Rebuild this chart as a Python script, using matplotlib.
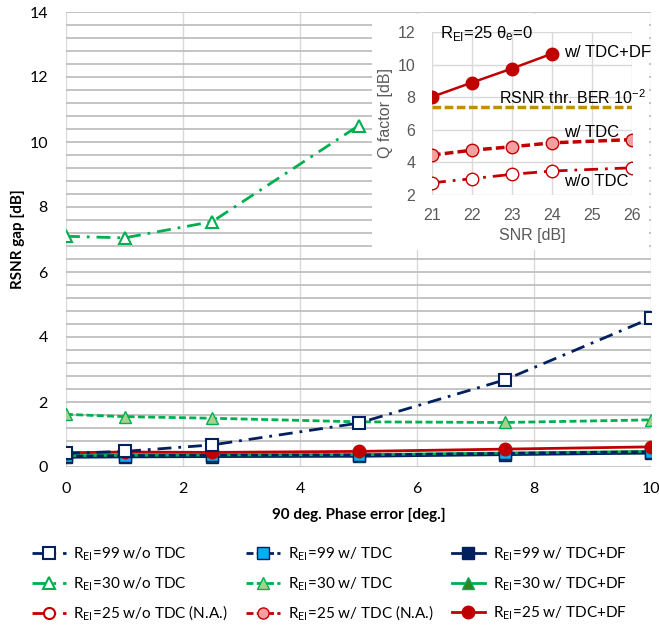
import matplotlib
matplotlib.use('Agg')
import matplotlib.pyplot as plt
from matplotlib.lines import Line2D
from matplotlib.ticker import MultipleLocator

plt.rcParams['font.family'] = ['Lato', 'DejaVu Sans']

# ---------------- data (main chart) ----------------
phase_err = [0, 1, 2.5, 5, 7.5, 10]
phase_err_30wo = [0, 1, 2.5, 5]

r99_wo = [0.42, 0.48, 0.68, 1.35, 2.68, 4.58]
r99_w = [0.33, 0.35, 0.36, 0.37, 0.42, 0.47]
r99_df = [0.30, 0.31, 0.32, 0.33, 0.38, 0.43]
r30_wo = [7.1, 7.05, 7.55, 10.5]
r30_w = [1.62, 1.55, 1.50, 1.39, 1.37, 1.45]
r30_df = [0.35, 0.36, 0.37, 0.38, 0.43, 0.48]
r25_df = [0.44, 0.46, 0.45, 0.48, 0.55, 0.62]

# ---------------- data (inset) ----------------
snr_df = [21, 22, 23, 24]
q_df = [8.02, 8.9, 9.76, 10.67]
snr_w = [21, 22, 23, 24, 26]
q_w = [4.45, 4.75, 4.96, 5.2, 5.4]
snr_wo = [21, 22, 23, 24, 26]
q_wo = [2.75, 3.0, 3.27, 3.47, 3.67]
snr_thr = [21, 26]
q_thr = [7.37, 7.37]

navy = '#002060'
green = '#00B050'
red = '#C00000'
dashdot = (0, (5, 2.5, 1, 2.5))
dashed = (0, (2.5, 1.2))

fig = plt.figure(figsize=(6.59, 6.27), dpi=100)
ax = fig.add_axes([66 / 659, 1 - 467 / 627, 585 / 659, 455 / 627])

ax.plot(phase_err, r99_df, color=navy, lw=2, marker='s', ms=8, mfc=navy, mec=navy,
        label=r'R$_{\mathregular{EI}}$=99 w/ TDC+DF')
ax.plot(phase_err, r30_df, color=green, lw=2, marker='^', ms=8, mfc='#3A7D22', mec=green,
        label=r'R$_{\mathregular{EI}}$=30 w/ TDC+DF')
ax.plot(phase_err, r99_w, color=navy, lw=2, ls=dashed, marker='s', ms=8, mfc='#00B0F0', mec=navy,
        label=r'R$_{\mathregular{EI}}$=99 w/ TDC')
ax.plot(phase_err, r25_df, color=red, lw=2, marker='o', ms=9, mfc=red, mec=red,
        label=r'R$_{\mathregular{EI}}$=25 w/ TDC+DF')
ax.plot(phase_err, r30_w, color=green, lw=2, ls=dashed, marker='^', ms=8, mfc='#A9D18E', mec=green,
        label=r'R$_{\mathregular{EI}}$=30 w/ TDC')
ax.plot(phase_err, r99_wo, color=navy, lw=2, ls=dashdot, marker='s', ms=8, mfc='white', mec=navy, mew=1.5,
        label=r'R$_{\mathregular{EI}}$=99 w/o TDC')
ax.plot(phase_err_30wo, r30_wo, color=green, lw=2, ls=dashdot, marker='^', ms=8, mfc='white', mec=green, mew=1.5,
        label=r'R$_{\mathregular{EI}}$=30 w/o TDC')

ax.set_xlim(0, 10)
ax.set_ylim(0, 14)
ax.xaxis.set_major_locator(MultipleLocator(2))
ax.yaxis.set_major_locator(MultipleLocator(2))
ax.yaxis.set_minor_locator(MultipleLocator(0.4))
ax.grid(True, which='major', axis='x', color='#D9D9D9', lw=1)
ax.grid(True, which='minor', axis='y', color='#BFBFBF', lw=1.3)
ax.grid(True, which='major', axis='y', color='#BFBFBF', lw=1.3)
ax.set_axisbelow(True)
for s in ax.spines.values():
    s.set_visible(False)
ax.tick_params(which='both', length=0, labelsize=11.5)
ax.tick_params(axis='y', pad=13)
ax.tick_params(axis='x', pad=11)
ax.set_xlabel('90 deg. Phase error [deg.]', fontsize=11, fontweight='bold', labelpad=8)
ax.set_ylabel('RSNR gap [dB]', fontsize=11, fontweight='bold', labelpad=3)

# ---------------- inset ----------------
bg = fig.add_axes([372 / 659, 1 - 250 / 627, 277 / 659, 236 / 627])
bg.set_facecolor('white')
bg.set_xticks([])
bg.set_yticks([])
for s in bg.spines.values():
    s.set_visible(False)

gray = '#595959'
ins = fig.add_axes([432 / 659, 1 - 195 / 627, 200 / 659, 163 / 627])
ins.plot(snr_thr, q_thr, color='#BF9000', lw=2.5, ls=(0, (2.5, 1)))
ins.plot(snr_df, q_df, color=red, lw=1.8, marker='o', ms=9, mfc=red, mec=red)
ins.plot(snr_w, q_w, color=red, lw=2.5, ls=dashed, marker='o', ms=9, mfc='#F4A0A0', mec=red)
ins.plot(snr_wo, q_wo, color=red, lw=2, ls=dashdot, marker='o', ms=9, mfc='white', mec=red)
ins.set_xlim(21, 26)
ins.set_ylim(2, 12)
ins.set_yticks([2, 4, 6, 8, 10, 12])
ins.set_xticks([21, 22, 23, 24, 25, 26])
ins.grid(True, color='#D9D9D9', lw=1)
ins.set_axisbelow(True)
for s in ins.spines.values():
    s.set_visible(False)
ins.tick_params(length=0, labelsize=11.5, colors=gray, labelfontfamily='Liberation Sans')
ins.tick_params(axis='y', pad=12)
ins.tick_params(axis='x', pad=9)
ins.set_xlabel('SNR [dB]', fontsize=11.5, color=gray, family='Liberation Sans', labelpad=4)
ins.set_ylabel('Q factor [dB]', fontsize=11.5, color=gray, family='Liberation Sans', labelpad=3)
ins.text(21.2, 11.9, r'R$_{\mathregular{EI}}$=25 $\mathregular{\theta_e}$=0', fontsize=12,
         family='Liberation Sans', va='center')
ins.text(24.3, 10.75, 'w/ TDC+DF', fontsize=12, family='Liberation Sans', va='center')
ins.text(26.35, 8.0, r'RSNR thr. BER 10$^{\mathregular{-2}}$', fontsize=11.5, family='Liberation Sans',
         va='center', ha='right')
ins.text(24.3, 5.85, 'w/ TDC', fontsize=12, family='Liberation Sans', va='center')
ins.text(24.3, 2.85, 'w/o TDC', fontsize=12, family='Liberation Sans', va='center')

# ---------------- legend ----------------
h = {l.get_label(): l for l in ax.get_lines()}
na_wo = Line2D([], [], color=red, lw=2, ls=dashdot, marker='o', ms=8, mfc='white', mec=red, mew=1.5)
na_w = Line2D([], [], color=red, lw=2, ls=dashed, marker='o', ms=8, mfc='#F4A0A0', mec=red)
handles = [h[r'R$_{\mathregular{EI}}$=99 w/o TDC'], h[r'R$_{\mathregular{EI}}$=30 w/o TDC'], na_wo,
           h[r'R$_{\mathregular{EI}}$=99 w/ TDC'], h[r'R$_{\mathregular{EI}}$=30 w/ TDC'], na_w,
           h[r'R$_{\mathregular{EI}}$=99 w/ TDC+DF'], h[r'R$_{\mathregular{EI}}$=30 w/ TDC+DF'],
           h[r'R$_{\mathregular{EI}}$=25 w/ TDC+DF']]
labels = [r'R$_{\mathregular{EI}}$=99 w/o TDC', r'R$_{\mathregular{EI}}$=30 w/o TDC',
          r'R$_{\mathregular{EI}}$=25 w/o TDC (N.A.)',
          r'R$_{\mathregular{EI}}$=99 w/ TDC', r'R$_{\mathregular{EI}}$=30 w/ TDC',
          r'R$_{\mathregular{EI}}$=25 w/ TDC (N.A.)',
          r'R$_{\mathregular{EI}}$=99 w/ TDC+DF', r'R$_{\mathregular{EI}}$=30 w/ TDC+DF',
          r'R$_{\mathregular{EI}}$=25 w/ TDC+DF']
fig.legend(handles, labels, ncol=3, loc='upper center', bbox_to_anchor=(0.5, 1 - 532 / 627),
           frameon=False, fontsize=11, handlelength=2.2, handletextpad=0.5, columnspacing=1.2,
           labelspacing=0.75)

fig.savefig('out.png', dpi=100)
